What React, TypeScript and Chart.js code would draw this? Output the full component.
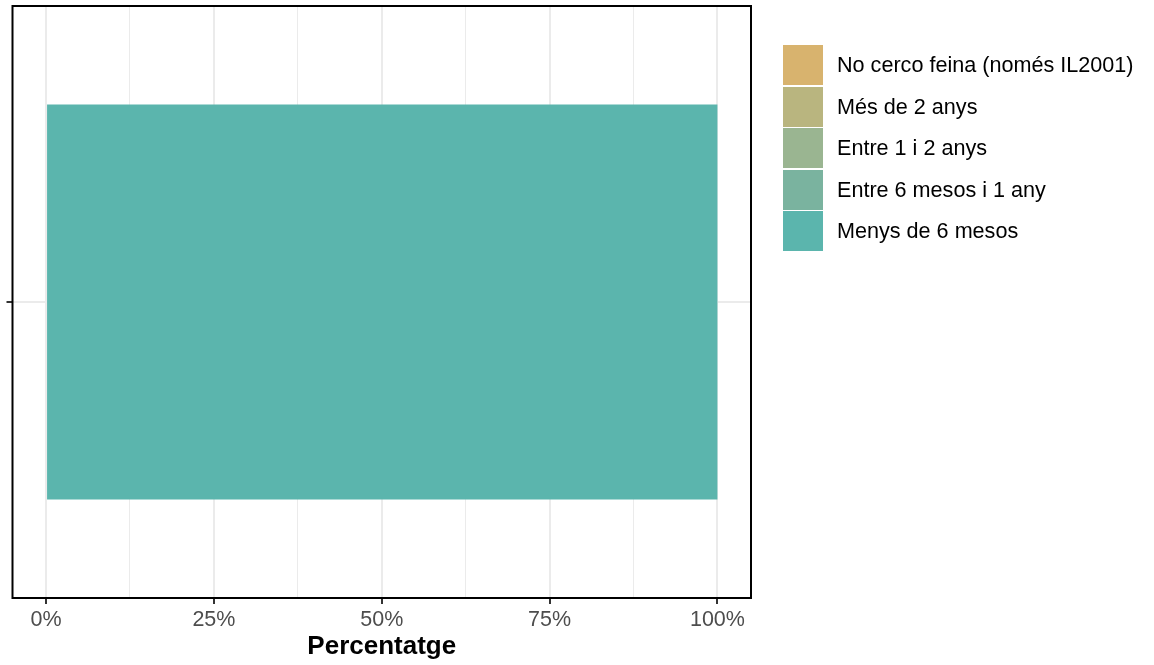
import React, { useEffect, useRef } from "react";
import { Chart, registerables } from "chart.js";

Chart.register(...registerables);

const categories: string[] = [""];
const seriesNames: string[] = [
  "Menys de 6 mesos",
  "Entre 6 mesos i 1 any",
  "Entre 1 i 2 anys",
  "Més de 2 anys",
  "No cerco feina (només IL2001)",
];
const seriesColors: string[] = ["#5BB5AD", "#7AB39F", "#9AB591", "#B9B57F", "#D8B36E"];
const seriesValues: number[][] = [[100], [0], [0], [0], [0]];
const xTickValues: number[] = [0, 12.5, 25, 37.5, 50, 62.5, 75, 87.5, 100];
const xAxisTitle = "Percentatge";

const FONT = "'Liberation Sans', Arial, Helvetica, sans-serif";

const panelBorder = {
  id: "panelBorder",
  afterDraw(chart: any) {
    const { ctx, chartArea } = chart;
    ctx.save();
    ctx.strokeStyle = "#000000";
    ctx.lineWidth = 2;
    ctx.strokeRect(chartArea.left, chartArea.top, chartArea.right - chartArea.left, chartArea.bottom - chartArea.top);
    ctx.restore();
  },
};

export default function App() {
  const canvasRef = useRef<HTMLCanvasElement>(null);

  useEffect(() => {
    document.body.style.margin = "0";
    const isMajor = (v: number) => Math.abs(v % 25) < 1e-9;
    const chart = new Chart(canvasRef.current as HTMLCanvasElement, {
      type: "bar",
      data: {
        labels: categories,
        datasets: seriesNames.map((name, i) => ({
          label: name,
          data: seriesValues[i],
          backgroundColor: seriesColors[i],
          borderWidth: 0,
          barPercentage: 0.667,
          categoryPercentage: 1,
        })),
      },
      options: {
        indexAxis: "y",
        animation: false,
        responsive: false,
        maintainAspectRatio: false,
        layout: { padding: { left: 0, top: 6, right: 403, bottom: 0 } },
        plugins: { legend: { display: false }, tooltip: { enabled: false } },
        scales: {
          x: {
            type: "linear",
            stacked: true,
            min: -5,
            max: 105,
            afterBuildTicks: (scale: any) => {
              scale.ticks = xTickValues.map((v) => ({ value: v }));
            },
            afterFit: (scale: any) => {
              scale.height = 67;
            },
            border: { display: false },
            grid: {
              color: "#EBEBEB",
              lineWidth: (c: any) => (isMajor(c.tick?.value ?? 0) ? 2 : 1),
              tickColor: (c: any) => (isMajor(c.tick?.value ?? 0) ? "#333333" : "rgba(0,0,0,0)"),
              tickWidth: 2,
              tickLength: 6,
              drawTicks: true,
            },
            ticks: {
              autoSkip: false,
              maxRotation: 0,
              color: "#4D4D4D",
              font: { family: FONT, size: 21.5 },
              padding: 3,
              callback: (v: any) => (isMajor(Number(v)) ? `${v}%` : ""),
            },
            title: {
              display: true,
              text: xAxisTitle,
              color: "#000000",
              font: { family: FONT, size: 26, weight: "bold" },
              padding: { top: 0, bottom: 3 },
            },
          },
          y: {
            type: "category",
            stacked: true,
            afterFit: (scale: any) => {
              scale.width = 12.5;
            },
            border: { display: false },
            grid: {
              offset: false,
              color: "#EBEBEB",
              lineWidth: 2,
              tickColor: "#333333",
              tickWidth: 2,
              tickLength: 6,
            },
            ticks: { display: true, font: { family: FONT, size: 1 }, padding: 0, callback: () => "" },
          },
        },
      },
      plugins: [panelBorder],
    } as any);
    return () => chart.destroy();
  }, []);

  const legendItems = seriesNames.map((n, i) => ({ name: n, color: seriesColors[i] })).reverse();

  return (
    <div style={{ position: "relative", width: 1154, height: 665, background: "#FFFFFF", fontFamily: FONT }}>
      <canvas ref={canvasRef} width={1154} height={665} style={{ position: "absolute", left: 0, top: 0 }} />
      {legendItems.map((it, i) => (
        <div key={it.name} style={{ position: "absolute", left: 783, top: 45 + i * 41.5, height: 40, display: "flex", alignItems: "center" }}>
          <div style={{ width: 40, height: 40, background: it.color }} />
          <span style={{ marginLeft: 14, fontSize: 21.6, color: "#000000", whiteSpace: "nowrap" }}>{it.name}</span>
        </div>
      ))}
    </div>
  );
}
